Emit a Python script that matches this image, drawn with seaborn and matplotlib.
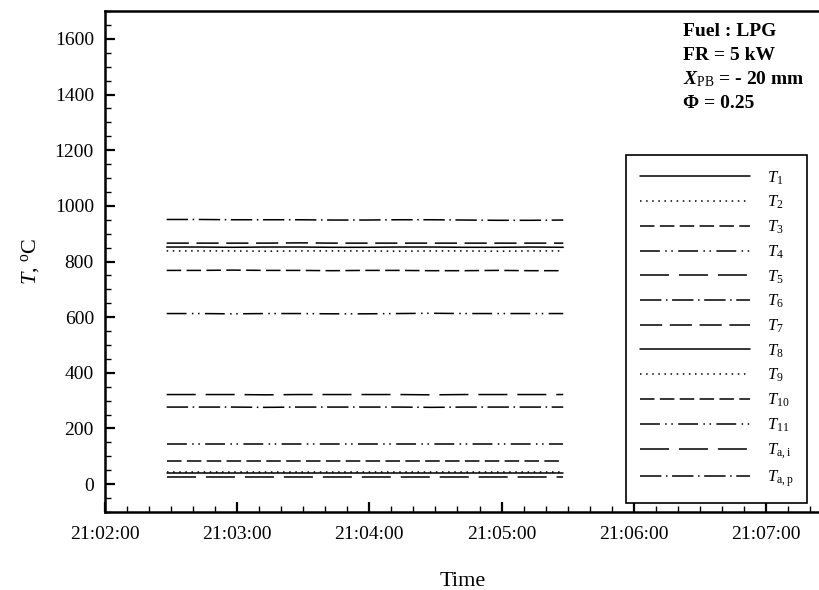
import matplotlib
matplotlib.use("Agg")
import matplotlib.pyplot as plt
import matplotlib.dates as mdates
import numpy as np
import pandas as pd
import seaborn as sns

# ---------------- data ----------------
start_time = "2015-01-01 21:02:28"
step_seconds = 15
n_points = 13

labels = [r"$T_{1}$", r"$T_{2}$", r"$T_{3}$", r"$T_{4}$", r"$T_{5}$", r"$T_{6}$",
          r"$T_{7}$", r"$T_{8}$", r"$T_{9}$", r"$T_{10}$", r"$T_{11}$",
          r"$T_{\mathrm{a,i}}$", r"$T_{\mathrm{a,p}}$"]

T1 = [852, 852, 851, 852, 852, 851, 851, 852, 852, 851, 851, 852, 851]
T2 = [838, 838, 838, 837, 838, 838, 838, 837, 838, 838, 837, 838, 838]
T3 = [768, 768, 769, 768, 768, 767, 768, 768, 767, 767, 768, 767, 767]
T4 = [613, 613, 612, 613, 613, 612, 612, 613, 614, 613, 613, 613, 613]
T5 = [322, 322, 322, 321, 322, 322, 322, 322, 321, 322, 322, 322, 322]
T6 = [277, 277, 277, 276, 277, 277, 277, 277, 276, 277, 277, 277, 277]
T7 = [866, 866, 866, 866, 867, 866, 866, 866, 866, 866, 866, 866, 866]
T8 = [39, 39, 39, 39, 39, 39, 39, 39, 39, 39, 39, 39, 39]
T9 = [45, 45, 45, 45, 45, 45, 45, 45, 45, 45, 45, 45, 45]
T10 = [83, 83, 83, 83, 83, 83, 83, 83, 83, 83, 83, 83, 83]
T11 = [143, 143, 143, 143, 143, 143, 143, 143, 143, 143, 143, 143, 143]
Tai = [24, 24, 24, 24, 24, 24, 24, 24, 24, 24, 24, 24, 24]
Tap = [951, 951, 950, 950, 950, 949, 949, 950, 950, 949, 948, 948, 949]

series = [T1, T2, T3, T4, T5, T6, T7, T8, T9, T10, T11, Tai, Tap]

x_min = "2015-01-01 21:02:00"
x_max = "2015-01-01 21:07:25"
y_min, y_max = -100, 1700

# ---------------- styles ----------------
solid = ""
dotted = (1.0, 3.0)
dashed = (9.5, 3.5)
dashdotdot = (13, 3.5, 1, 3, 1, 3.5)
longdash = (19, 6.5)
dashdot = (14, 3, 1, 3)
meddash = (14.5, 5)
style_list = [solid, dotted, dashed, dashdotdot, longdash, dashdot, meddash,
              solid, dotted, dashed, dashdotdot, longdash, dashdot]
dash_map = dict(zip(labels, style_list))

times = pd.date_range(start_time, periods=n_points, freq=f"{step_seconds}s")
frames = []
for lab, vals in zip(labels, series):
    frames.append(pd.DataFrame({"time": times, "T": vals, "sensor": lab}))
df = pd.concat(frames, ignore_index=True)

sns.set_style("ticks")
plt.rcParams["font.family"] = ["Liberation Serif", "DejaVu Serif"]
plt.rcParams["mathtext.fontset"] = "custom"
plt.rcParams["mathtext.rm"] = "Liberation Serif"
plt.rcParams["mathtext.it"] = "Liberation Serif:italic"
plt.rcParams["mathtext.bf"] = "Liberation Serif:bold"
plt.rcParams["mathtext.bfit"] = "Liberation Serif:italic:bold"
for key in ["text.color", "axes.labelcolor", "xtick.color", "ytick.color", "axes.edgecolor"]:
    plt.rcParams[key] = "black"

fig = plt.figure(figsize=(8.19, 5.90), dpi=100)
ax = fig.add_axes([105 / 819, 1 - 512 / 590, (821 - 105) / 819, (512 - 11) / 590])

sns.lineplot(data=df, x="time", y="T", hue="sensor", style="sensor",
             hue_order=labels, style_order=labels,
             palette=["black"] * len(labels), dashes=dash_map,
             linewidth=1.1, ax=ax, legend="full", estimator=None)

ax.set_xlim(pd.Timestamp(x_min), pd.Timestamp(x_max))
ax.set_ylim(y_min, y_max)

ax.xaxis.set_major_locator(mdates.MinuteLocator())
ax.xaxis.set_minor_locator(mdates.SecondLocator(bysecond=range(0, 60, 10)))
ax.xaxis.set_major_formatter(mdates.DateFormatter("%H:%M:%S"))
ax.yaxis.set_major_locator(matplotlib.ticker.MultipleLocator(200))
ax.yaxis.set_minor_locator(matplotlib.ticker.MultipleLocator(50))

ax.tick_params(axis="x", which="major", direction="in", length=7, width=1.6,
               labelsize=14, pad=10, colors="black")
ax.tick_params(axis="y", which="major", direction="in", length=7, width=1.6,
               labelsize=14, pad=8, colors="black")
ax.tick_params(which="minor", direction="in", length=4, width=1.0)
for s in ax.spines.values():
    s.set_linewidth(1.8)
    s.set_color("black")

ax.set_xlabel("Time", fontsize=16, labelpad=21)
ax.set_ylabel(r"$T$, $^{\mathrm{o}}$C", fontsize=16, labelpad=9)

handles, labs = ax.get_legend_handles_labels()
leg = ax.legend(handles, labs, loc="upper left",
                bbox_to_anchor=(626 / 819, 1 - 155 / 590),
                bbox_transform=fig.transFigure,
                fontsize=12, handlelength=6.6, handletextpad=1.0,
                labelspacing=0.44, borderpad=0.85, borderaxespad=0,
                fancybox=False, frameon=True, framealpha=1,
                edgecolor="black")
leg.get_frame().set_linewidth(1.2)
for h in leg.legend_handles:
    h.set_color("black")
    h.set_linewidth(1.1)

fs = 14
fig.text(683 / 819, 1 - 36 / 590, "Fuel : LPG", fontsize=fs, fontweight="bold", va="baseline")
fig.text(683 / 819, 1 - 60 / 590, "FR = 5 kW", fontsize=fs, fontweight="bold", va="baseline")
fig.text(683 / 819, 1 - 84 / 590, r"$\mathbfit{X}_{\mathrm{PB}}$ = - 20 mm", fontsize=fs,
         fontweight="bold", va="baseline")
fig.text(683 / 819, 1 - 108.5 / 590, "Φ = 0.25", fontsize=fs, fontweight="bold", va="baseline")

fig.savefig("out.png", dpi=100)
